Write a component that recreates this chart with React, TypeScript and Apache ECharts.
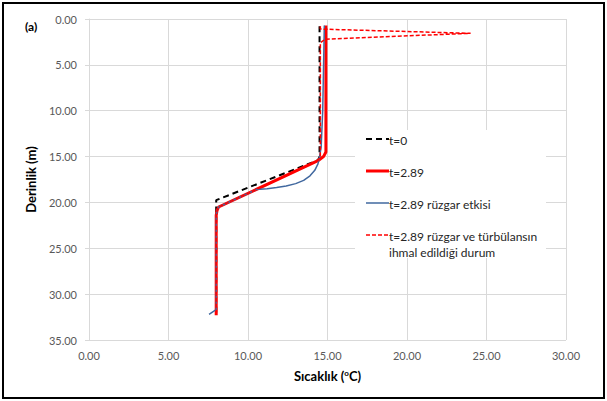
import React, { useEffect, useRef } from "react";
import * as echarts from "echarts";

// Data: temperature (°C) vs depth (m)
const seriesNames = [
  "t=0",
  "t=2.89",
  "t=2.89 rüzgar etkisi",
  "t=2.89 rüzgar ve türbülansın\nihmal edildiği durum",
];

const t0Temp = [14.5, 14.5, 14.4, 8.0, 8.0];
const t0Depth = [0.8, 15.0, 15.4, 19.75, 32.3];

const t289Temp = [14.9, 14.9, 14.75, 14.4, 8.15, 8.05, 8.0, 8.0];
const t289Depth = [0.7, 14.5, 15.0, 15.45, 20.5, 20.9, 21.4, 32.3];

const windTemp = [14.8, 14.7, 14.6, 14.5, 14.4, 14.2, 13.9, 13.5, 13.0, 12.4, 11.8, 11.2, 10.5, 8.15, 8.05, 8.0, 8.0, 7.9, 7.55];
const windDepth = [0.7, 10.0, 14.0, 15.0, 15.8, 16.5, 17.1, 17.6, 17.95, 18.2, 18.38, 18.5, 18.6, 20.5, 20.9, 21.4, 31.7, 31.8, 32.2];

const noWindTemp = [14.55, 14.55, 24.0, 14.85, 14.55, 14.55, 14.4, 8.15, 8.05, 8.0, 8.0];
const noWindDepth = [0.8, 1.1, 1.56, 2.2, 2.6, 15.0, 15.45, 20.5, 20.9, 21.4, 32.3];

const xTicks = [0, 5, 10, 15, 20, 25, 30];
const yTicks = [0, 5, 10, 15, 20, 25, 30, 35];

const zip = (a: number[], b: number[]) => a.map((v, i) => [v, b[i]]);

const FONT = "Lato";

export default function App() {
  const ref = useRef<HTMLDivElement>(null);
  useEffect(() => {
    if (!ref.current) return;
    const chart = echarts.init(ref.current, null, { renderer: "svg" });
    const legendY = [139, 171, 203, 235];
    const legendStyles = [
      { stroke: "#000000", lineWidth: 2, lineDash: [6, 4] },
      { stroke: "#ff0000", lineWidth: 3 },
      { stroke: "#41689f", lineWidth: 1.5 },
      { stroke: "#ff0000", lineWidth: 1.5, lineDash: [4, 2] },
    ];
    const graphics: any[] = [
      {
        type: "rect",
        shape: { x: 3, y: 3, width: 601, height: 395 },
        style: { fill: "none", stroke: "#000", lineWidth: 2 },
        z: 100,
      },
      {
        type: "text",
        left: 25,
        top: 20,
        style: { text: "(a)", font: `bold 12px ${FONT}`, fill: "#000" },
      },
      {
        type: "rect",
        shape: { x: 355, y: 130, width: 191, height: 128 },
        style: { fill: "#ffffff" },
        z: 10,
      },
    ];
    seriesNames.forEach((name, i) => {
      graphics.push({
        type: "line",
        shape: { x1: 366, y1: legendY[i], x2: 389, y2: legendY[i] },
        style: legendStyles[i],
        z: 11,
      });
      graphics.push({
        type: "text",
        x: 389,
        y: legendY[i] - 7,
        style: {
          text: name,
          font: `12px ${FONT}`,
          fill: "#262626",
          lineHeight: 16,
        },
        z: 11,
      });
    });

    chart.setOption({
      animation: false,
      grid: { left: 89, right: 41, top: 19, bottom: 61 },
      xAxis: {
        type: "value",
        min: 0,
        max: 30,
        interval: 5,
        name: "{a|Sıcaklık (}{s|o}{a|C)}",
        nameLocation: "middle",
        nameGap: 29,
        nameTextStyle: {
          rich: {
            a: { fontFamily: FONT, fontWeight: "bold", fontSize: 13, color: "#000" },
            s: { fontFamily: FONT, fontWeight: "bold", fontSize: 8, color: "#000", verticalAlign: "top", padding: [0, 0, 6, 0] },
          },
        },
        axisLine: { show: true, lineStyle: { color: "#d9d9d9", width: 1 } },
        axisTick: { show: true, length: 4, lineStyle: { color: "#d9d9d9" } },
        axisLabel: {
          formatter: (v: number) => (xTicks.includes(v) ? v.toFixed(2) : ""),
          fontFamily: FONT,
          fontSize: 11,
          color: "#595959",
          margin: 10,
        },
        splitLine: { show: true, lineStyle: { color: "#d9d9d9", width: 1 } },
      },
      yAxis: {
        type: "value",
        inverse: true,
        min: 0,
        max: 35,
        interval: 5,
        name: "Derinlik (m)",
        nameLocation: "middle",
        nameGap: 42,
        nameTextStyle: { fontFamily: FONT, fontWeight: "bold", fontSize: 13, color: "#000" },
        axisLine: { show: true, lineStyle: { color: "#d9d9d9", width: 1 } },
        axisTick: { show: true, length: 4, lineStyle: { color: "#d9d9d9" } },
        axisLabel: {
          formatter: (v: number) => (yTicks.includes(v) ? v.toFixed(2) : ""),
          fontFamily: FONT,
          fontSize: 11,
          color: "#595959",
          margin: 12,
        },
        splitLine: { show: true, lineStyle: { color: "#d9d9d9", width: 1 } },
      },
      series: [
        {
          name: seriesNames[0],
          type: "line",
          data: zip(t0Temp, t0Depth),
          showSymbol: false,
          symbol: "none",
          lineStyle: { color: "#000", width: 2, type: [6, 4] },
          z: 2,
        },
        {
          name: seriesNames[1],
          type: "line",
          data: zip(t289Temp, t289Depth),
          symbol: "none",
          lineStyle: { color: "#ff0000", width: 3 },
          z: 3,
        },
        {
          name: seriesNames[2],
          type: "line",
          data: zip(windTemp, windDepth),
          symbol: "none",
          lineStyle: { color: "#41689f", width: 1.5 },
          z: 4,
        },
        {
          name: seriesNames[3],
          type: "line",
          data: zip(noWindTemp, noWindDepth),
          symbol: "none",
          lineStyle: { color: "#ff0000", width: 1.5, type: [4, 2] },
          z: 5,
        },
      ],
      graphic: graphics,
    });
    return () => chart.dispose();
  }, []);
  return (
    <div
      ref={ref}
      style={{ position: "absolute", left: 0, top: 0, width: 607, height: 401, background: "#fff" }}
    />
  );
}
